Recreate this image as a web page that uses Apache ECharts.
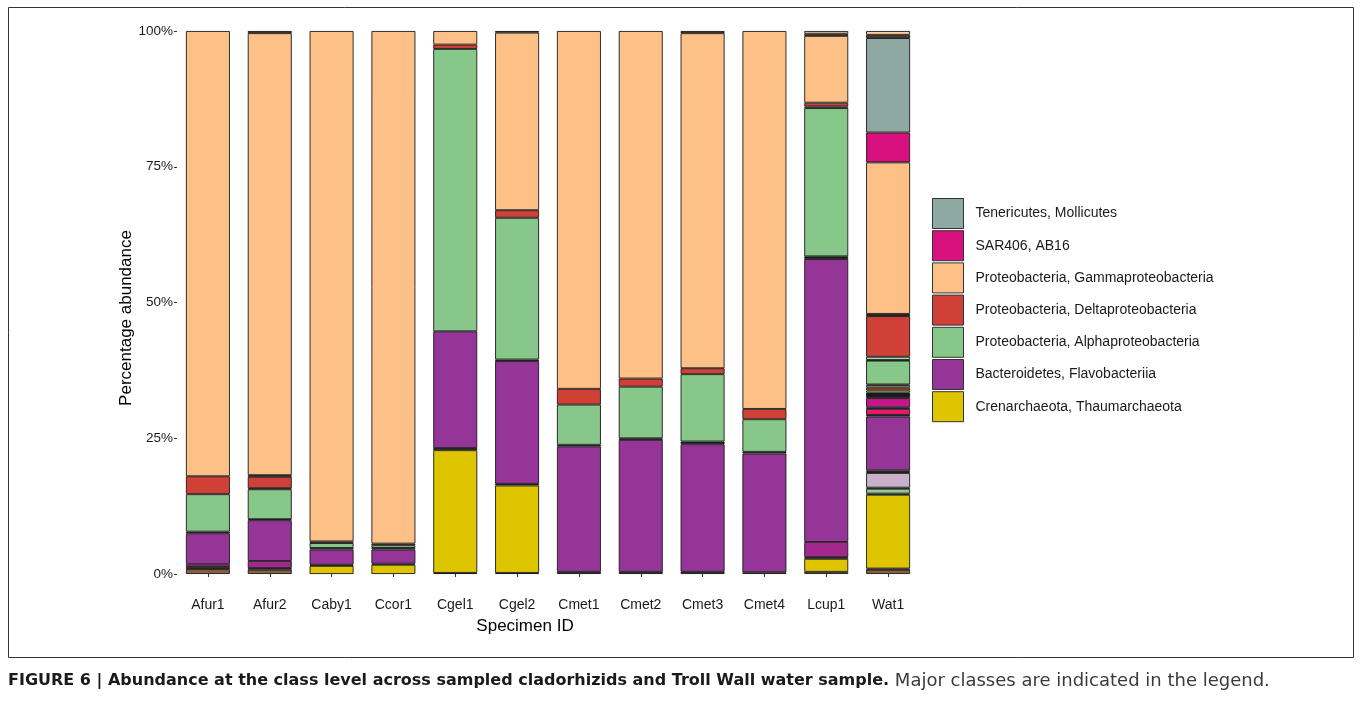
<!DOCTYPE html>
<html>
<head>
<meta charset="utf-8">
<script src="https://cdn.jsdelivr.net/npm/echarts@6/dist/echarts.min.js"></script>
<style>
html,body{margin:0;padding:0;background:#fff;}
#chart{width:1360px;height:701px;}
</style>
</head>
<body>
<div id="chart"></div>
<script>
// Specimens (x categories)
var specimens = ['Afur1','Afur2','Caby1','Ccor1','Cgel1','Cgel2','Cmet1','Cmet2','Cmet3','Cmet4','Lcup1','Wat1'];
var yTicks = [0, 25, 50, 75, 100];

// Percentage abundance per class, bottom of stack first
var brownOther    = [0.9, 0.8, 0,   0,   0.2, 0.2, 0,   0,   0,   0,   0.4, 0.8];
var blackA        = [0.4, 0.3, 0,   0,   0,   0,   0.4, 0.4, 0.4, 0.3, 0,   0.2];
var crenarch      = [0,   0,   1.5, 1.7, 22.6,16.1,0,   0,   0,   0,   2.4, 13.6];
var blackB        = [0,   0,   0.2, 0.2, 0.4, 0.3, 0,   0,   0,   0,   0.3, 0.2];
var greenOther    = [0,   0,   0,   0,   0,   0,   0,   0,   0,   0,   0,   0.9];
var blackC        = [0,   0,   0,   0,   0,   0,   0,   0,   0,   0,   0,   0.2];
var lilacOther    = [0,   0,   0,   0,   0,   0,   0,   0,   0,   0,   0,   2.7];
var blackD        = [0,   0,   0,   0,   0,   0,   0,   0,   0,   0,   0,   0.2];
var pinkPurple    = [0.5, 1.3, 0,   0,   0,   0,   0,   0,   0,   0,   2.8, 0.3];
var flavo         = [5.7, 7.5, 2.8, 2.6, 21.5,22.6,23.1,24.3,23.5,21.9,52.1,9.9];
var blackE        = [0.3, 0.2, 0.3, 0.3, 0,   0.3, 0.3, 0.3, 0.5, 0.3, 0.5, 0.3];
var hotPink       = [0,   0,   0,   0,   0,   0,   0,   0,   0,   0,   0,   1.1];
var blackF        = [0,   0,   0,   0,   0,   0,   0,   0,   0,   0,   0,   0.3];
var magentaOther  = [0,   0,   0,   0,   0,   0,   0,   0,   0,   0,   0,   1.7];
var blackG        = [0,   0,   0,   0,   0,   0,   0,   0,   0,   0,   0,   1.0];
var lightYellow   = [0,   0,   0,   0,   0,   0,   0,   0,   0,   0,   0,   0.4];
var orangeBrown   = [0,   0,   0,   0,   0,   0,   0,   0,   0,   0,   0,   0.5];
var lightYellow2  = [0,   0,   0,   0,   0,   0,   0,   0,   0,   0,   0,   0.4];
var blackH        = [0,   0,   0,   0,   0,   0,   0,   0,   0,   0,   0,   0.2];
var alpha         = [6.9, 5.5, 0.9, 0.5, 52.0,26.1,7.4, 9.5, 12.4,6.0, 27.3,4.4];
var blackI        = [0,   0.2, 0,   0,   0,   0,   0,   0,   0,   0,   0,   0.1];
var greenOther2   = [0,   0,   0,   0,   0,   0,   0,   0,   0,   0,   0.3, 0.6];
var delta         = [3.3, 2.1, 0.3, 0.3, 0.8, 1.4, 2.9, 1.5, 1.1, 1.9, 0.7, 7.5];
var blackJ        = [0,   0.3, 0,   0,   0,   0,   0,   0,   0,   0,   0,   0.4];
var gamma         = [82.0,81.4,94.0,94.4,2.5, 32.7,65.9,64.0,61.7,69.6,12.3,27.9];
var sar406        = [0,   0,   0,   0,   0,   0,   0,   0,   0,   0,   0,   5.5];
var tenericutes   = [0,   0,   0,   0,   0,   0,   0,   0,   0,   0,   0,   17.4];
var darkBrown     = [0,   0.4, 0,   0,   0,   0.3, 0,   0,   0.4, 0,   0.4, 0.6];
var lightOrange   = [0,   0,   0,   0,   0,   0,   0,   0,   0,   0,   0.5, 0.7];

var classNames = {
  ten: 'Tenericutes, Mollicutes',
  sar: 'SAR406, AB16',
  gam: 'Proteobacteria, Gammaproteobacteria',
  del: 'Proteobacteria, Deltaproteobacteria',
  alp: 'Proteobacteria, Alphaproteobacteria',
  fla: 'Bacteroidetes, Flavobacteriia',
  cre: 'Crenarchaeota, Thaumarchaeota'
};

var stackDefs = [
  ['o1', brownOther, '#8c5e3e'],
  ['b1', blackA, '#1a1a1a'],
  [classNames.cre, crenarch, '#dfc500'],
  ['b2', blackB, '#1a1a1a'],
  ['o2', greenOther, '#8fca8f'],
  ['b3', blackC, '#1a1a1a'],
  ['o3', lilacOther, '#c9b0c9'],
  ['b4', blackD, '#1a1a1a'],
  ['o4', pinkPurple, '#a3288c'],
  [classNames.fla, flavo, '#953597'],
  ['b5', blackE, '#1a1a1a'],
  ['o5', hotPink, '#e8196e'],
  ['b6', blackF, '#1a1a1a'],
  ['o6', magentaOther, '#c7168a'],
  ['b7', blackG, '#1a1a1a'],
  ['o7', lightYellow, '#f6e58a'],
  ['o8', orangeBrown, '#d2601a'],
  ['o9', lightYellow2, '#f6e58a'],
  ['b8', blackH, '#1a1a1a'],
  [classNames.alp, alpha, '#88c78a'],
  ['b9', blackI, '#1a1a1a'],
  ['o10', greenOther2, '#a9d9a6'],
  [classNames.del, delta, '#cf4037'],
  ['b10', blackJ, '#1a1a1a'],
  [classNames.gam, gamma, '#fdc086'],
  [classNames.sar, sar406, '#d9117f'],
  [classNames.ten, tenericutes, '#8ea8a2'],
  ['o11', darkBrown, '#5e3b25'],
  ['o12', lightOrange, '#fdd49e']
];

var series = stackDefs.map(function (d) {
  return {
    name: d[0],
    type: 'bar',
    stack: 'total',
    barWidth: 44,
    data: d[1].map(function (v) { return v === 0 ? null : v; }),
    itemStyle: { color: d[2], borderColor: '#1a1a1a', borderWidth: 0.9 },
    emphasis: { disabled: true },
    animation: false
  };
});

var chart = echarts.init(document.getElementById('chart'), null, { renderer: 'canvas' });
chart.setOption({
  animation: false,
  backgroundColor: '#ffffff',
  grid: { left: 177, top: 31, width: 742, height: 543, containLabel: false },
  xAxis: {
    type: 'category',
    data: specimens,
    offset: 12,
    axisLine: { show: false },
    axisTick: { show: true, alignWithLabel: true, length: 3, lineStyle: { color: '#333' } },
    axisLabel: { color: '#1a1a1a', fontSize: 14, fontFamily: 'Liberation Sans, Arial, sans-serif', margin: 12 }
  },
  yAxis: {
    type: 'value',
    min: yTicks[0],
    max: yTicks[yTicks.length - 1],
    interval: 25,
    axisLine: { show: false },
    splitLine: { show: false },
    axisTick: { show: true, length: 3, lineStyle: { color: '#333' } },
    axisLabel: { color: '#1a1a1a', fontSize: 13.5, fontFamily: 'Liberation Sans, Arial, sans-serif', margin: 4, formatter: '{value}%' }
  },
  legend: {
    orient: 'vertical',
    left: 932,
    top: 198,
    padding: 0,
    itemWidth: 31,
    itemHeight: 30,
    itemGap: 1.2,
    icon: 'rect',
    selectedMode: false,
    data: [classNames.ten, classNames.sar, classNames.gam, classNames.del, classNames.alp, classNames.fla, classNames.cre],
    itemStyle: { borderColor: '#333', borderWidth: 1 },
    textStyle: { color: '#1a1a1a', fontSize: 14, fontFamily: 'Liberation Sans, Arial, sans-serif', padding: [0, 0, 0, 7] }
  },
  graphic: [
    {
      type: 'rect', silent: true,
      shape: { x: 8.5, y: 7.5, width: 1345, height: 650 },
      style: { fill: 'none', stroke: '#333', lineWidth: 1 }
    },
    {
      type: 'text', silent: true,
      x: 126, y: 318, rotation: Math.PI / 2,
      style: { text: 'Percentage abundance', fill: '#000', font: '17px "Liberation Sans", Arial, sans-serif', textAlign: 'center', textVerticalAlign: 'middle' }
    },
    {
      type: 'text', silent: true,
      x: 525, y: 626,
      style: { text: 'Specimen ID', fill: '#000', font: '17px "Liberation Sans", Arial, sans-serif', textAlign: 'center', textVerticalAlign: 'middle' }
    },
    {
      type: 'text', silent: true,
      x: 8, y: 681,
      style: {
        text: '{b|FIGURE 6 | Abundance at the class level across sampled cladorhizids and Troll Wall water sample.}{n| Major classes are indicated in the legend.}',
        textVerticalAlign: 'middle',
        rich: {
          b: { fontFamily: '"DejaVu Sans", sans-serif', fontWeight: 'bold', fontSize: 16, fill: '#1a1a1a' },
          n: { fontFamily: '"DejaVu Sans", sans-serif', fontSize: 18, fill: '#3a3a3a' }
        }
      }
    }
  ],
  series: series
});
</script>
</body>
</html>
